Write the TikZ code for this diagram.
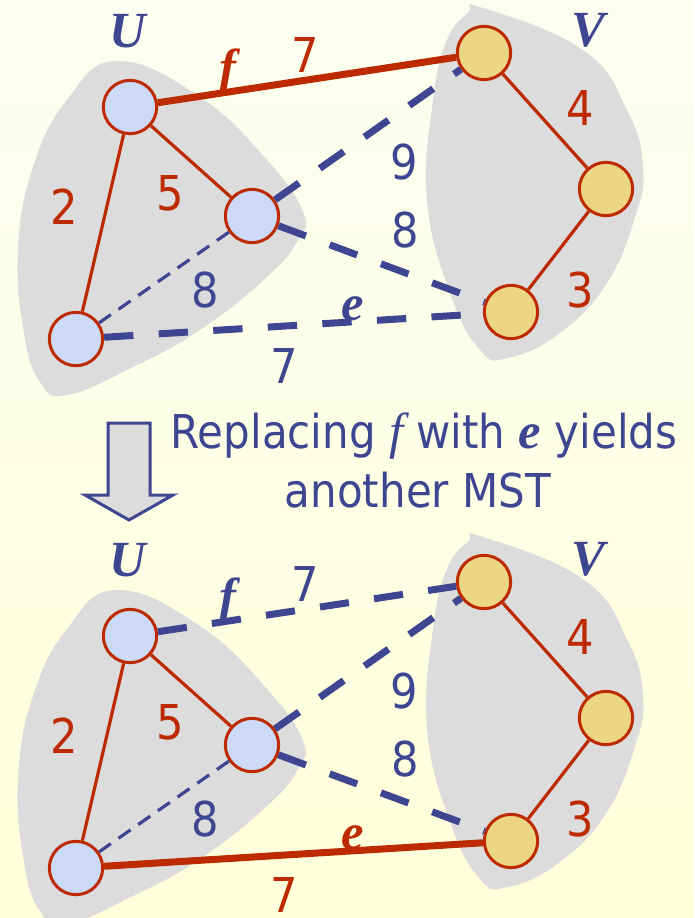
\documentclass[tikz,border=0pt]{standalone}
\usepackage{fontspec}
\setmainfont{DejaVu Sans Condensed}
\newfontfamily\serif{Liberation Serif}

\definecolor{edgered}{RGB}{190,42,0}
\definecolor{edgeblue}{RGB}{62,69,145}
\definecolor{ufill}{RGB}{204,218,248}
\definecolor{vfill}{RGB}{236,214,134}
\definecolor{blobgray}{RGB}{220,220,220}

\begin{document}
\begin{tikzpicture}[x=.75pt, y=.75pt, yscale=-1,
  unode/.style={circle, draw=edgered, line width=2.25pt, fill=ufill,
    minimum size=40pt, inner sep=0pt},
  vnode/.style={unode, fill=vfill},
  treeedge/.style={draw=edgered, line width=2.4pt},
  cutedge/.style={draw=edgered, line width=5.25pt},
  crossedge/.style={draw=edgeblue, line width=5.25pt, dash pattern=on 22pt off 19pt},
  inneredge/.style={draw=edgeblue, line width=2.4pt, dash pattern=on 11pt off 7pt},
  wlabel/.style={font=\fontsize{36}{36}\selectfont, inner sep=1pt},
  setlabel/.style={font=\serif\bfseries\itshape\fontsize{38}{38}\selectfont, text=edgeblue},
  caption/.style={font=\fontsize{35}{40}\selectfont, text=edgeblue, anchor=base}]

  \useasboundingbox (0, 0) rectangle (694, 918);
  \shade[top color={rgb,255:red,252;green,254;blue,240},
         bottom color={rgb,255:red,255;green,255;blue,218}] (0, 0) rectangle (694, 918);

  \def\cluster{%
    \fill[blobgray] plot[smooth cycle, tension=.75] coordinates {
      (117, 61) (200, 97) (267, 160) (303, 212) (298, 240) (267, 277) (200, 330)
      (133, 367) (67, 395) (40, 382) (24, 333) (18, 250) (33, 167) (67, 100)};
    \fill[blobgray] plot[smooth cycle, tension=.75] coordinates {
      (483, 8) (583, 50) (627, 110) (643, 167) (635, 217) (607, 283) (560, 333)
      (508, 358) (480, 350) (450, 293) (427, 200) (433, 100) (447, 40) (468, 13)};
    \node[setlabel] (U) at (128, 31) {U};
    \node[setlabel] (V) at (588, 30) {V};
    \node[unode] (u1) at (130, 107) {};
    \node[unode] (u2) at (252, 216) {};
    \node[unode] (u3) at (76, 339) {};
    \node[vnode] (v1) at (484, 53) {};
    \node[vnode] (v2) at (606, 189) {};
    \node[vnode] (v3) at (511, 312) {};
    \draw[treeedge] (u1) -- (u3);
    \draw[treeedge] (u1) -- (u2);
    \draw[treeedge] (v1) -- (v2);
    \draw[treeedge] (v2) -- (v3);
    \draw[inneredge] (u2) -- (u3);
    \draw[crossedge] (u2) -- (v1);
    \draw[crossedge] (u2) -- (v3);
    \node[wlabel, text=edgered] (w2) at (64, 207) {2};
    \node[wlabel, text=edgered] (w5) at (170, 193) {5};
    \node[wlabel, text=edgered] (w4) at (580, 108) {4};
    \node[wlabel, text=edgered] (w3) at (580, 290) {3};
    \node[wlabel, text=edgeblue] (w8a) at (205, 290) {8};
    \node[wlabel, text=edgeblue] (w9) at (404, 162) {9};
    \node[wlabel, text=edgeblue] (w8b) at (405, 230) {8};
  }

  \begin{scope}
    \cluster
    \draw[cutedge] (u1) -- (v1);
    \draw[crossedge] (u3) -- (v3);
    \node[setlabel, text=edgered] (f) at (228, 72) {f};
    \node[wlabel, text=edgered] (wf) at (305, 55) {7};
    \node[setlabel] (e) at (353, 309) {e};
    \node[wlabel, text=edgeblue] (we) at (284, 366) {7};
  \end{scope}

  \begin{scope}[shift={(0, 529)}]
    \cluster
    \draw[crossedge] (u1) -- (v1);
    \draw[cutedge] (u3) -- (v3);
    \node[setlabel] (f) at (228, 72) {f};
    \node[wlabel, text=edgeblue] (wf) at (305, 55) {7};
    \node[setlabel, text=edgered] (e) at (353, 309) {e};
    \node[wlabel, text=edgered] (we) at (284, 366) {7};
  \end{scope}

  \draw[edgeblue, line width=2.25pt, fill=blobgray, line join=miter]
    (108, 423) -- (150, 423) -- (150, 495) -- (173, 495) -- (129, 520)
    -- (85, 495) -- (108, 495) -- cycle;
  \node[caption] (line1) at (424, 448)
    {Replacing {\serif\itshape\fontsize{38}{38}\selectfont f} with
     {\serif\bfseries\itshape\fontsize{38}{38}\selectfont e} yields};
  \node[caption] (line2) at (418, 507) {another MST};

\end{tikzpicture}
\end{document}
